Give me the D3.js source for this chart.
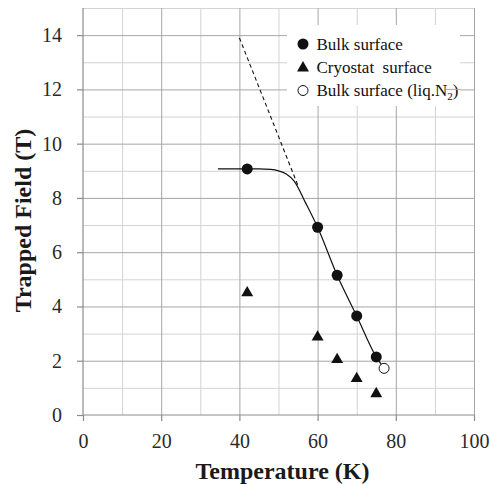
<!DOCTYPE html>
<html>
<head>
<meta charset="utf-8">
<script src="https://cdn.jsdelivr.net/npm/d3@7"></script>
<style>
  body { margin: 0; background: #fff; }
  text { font-family: "Liberation Serif", "Times New Roman", serif; }
</style>
</head>
<body>
<script>
// data
var bulkT = [42, 60, 65, 70, 75],
    bulkB = [9.07, 6.92, 5.15, 3.65, 2.14];
var cryoT = [42, 60, 65, 70, 75],
    cryoB = [4.54, 2.91, 2.08, 1.38, 0.82];
var ln2T = [77],
    ln2B = [1.72];
// hand drawn guide line through the bulk points
var fitT = [34.5, 45, 48, 50, 52, 54, 57, 60, 65, 70, 75, 77],
    fitB = [9.07, 9.07, 9.05, 9.0, 8.88, 8.62, 7.8, 6.92, 5.15, 3.65, 2.14, 1.72];
// dashed extrapolation
var dashT = [40, 55],
    dashB = [13.9, 8.45];
var xTicks = [0, 20, 40, 60, 80, 100],
    yTicks = [0, 2, 4, 6, 8, 10, 12, 14];
var legendLabels = ["Bulk surface", "Cryostat  surface", "Bulk surface (liq.N"];

var width = 490, height = 484;
var pLeft = 83, pRight = 474, pTop = 8, pBottom = 415;

var svg = d3.select("body").append("svg")
    .attr("width", width)
    .attr("height", height);

var x = d3.scaleLinear().domain([0, 100]).range([pLeft, pRight]);
var y = d3.scaleLinear().domain([0, 15]).range([pBottom, pTop]);

// minor grid (odd steps)
svg.append("g")
    .attr("transform", "translate(0," + pBottom + ")")
    .call(d3.axisBottom(x).tickValues(d3.range(10, 101, 20)).tickSize(-(pBottom - pTop)).tickFormat(""))
    .call(function(g) {
        g.select(".domain").remove();
        g.selectAll("line").attr("stroke", "#d3d3d3");
    });
svg.append("g")
    .attr("transform", "translate(" + pLeft + ",0)")
    .call(d3.axisLeft(y).tickValues(d3.range(1, 16, 2)).tickSize(-(pRight - pLeft)).tickFormat(""))
    .call(function(g) {
        g.select(".domain").remove();
        g.selectAll("line").attr("stroke", "#d3d3d3");
    });

// major grid
svg.append("g")
    .attr("transform", "translate(0," + pBottom + ")")
    .call(d3.axisBottom(x).tickValues(xTicks.slice(1)).tickSize(-(pBottom - pTop)).tickFormat(""))
    .call(function(g) {
        g.select(".domain").remove();
        g.selectAll("line").attr("stroke", "#a6a6a6");
    });
svg.append("g")
    .attr("transform", "translate(" + pLeft + ",0)")
    .call(d3.axisLeft(y).tickValues(yTicks.slice(1)).tickSize(-(pRight - pLeft)).tickFormat(""))
    .call(function(g) {
        g.select(".domain").remove();
        g.selectAll("line").attr("stroke", "#a6a6a6");
    });

// axes with labels
var xAxis = svg.append("g")
    .attr("transform", "translate(0," + pBottom + ")")
    .call(d3.axisBottom(x).tickValues(xTicks).tickSize(6).tickPadding(13).tickSizeOuter(0));
var yAxis = svg.append("g")
    .attr("transform", "translate(" + pLeft + ",0)")
    .call(d3.axisLeft(y).tickValues(yTicks).tickSize(6).tickPadding(15).tickSizeOuter(0));

[xAxis, yAxis].forEach(function(g) {
    g.select(".domain").attr("stroke", "#8c8c8c").attr("stroke-width", 1.2);
    g.selectAll(".tick line").attr("stroke", "#8c8c8c").attr("stroke-width", 1.2);
    g.selectAll(".tick text")
        .attr("fill", "#2a2a2a")
        .style("font-family", '"Liberation Serif", serif')
        .style("font-size", "20px");
});
yAxis.select(".domain").attr("d", "M0," + pBottom + "V" + pTop);
xAxis.select(".domain").attr("d", "M" + pLeft + ",0H" + pRight);

// axis titles
svg.append("text")
    .attr("x", (pLeft + pRight) / 2 + 4)
    .attr("y", 479)
    .attr("text-anchor", "middle")
    .style("font-size", "24px")
    .style("font-weight", "bold")
    .attr("fill", "#1a1a1a")
    .text("Temperature (K)");

svg.append("text")
    .attr("transform", "translate(31," + ((pTop + pBottom) / 2 + 9) + ") rotate(-90)")
    .attr("text-anchor", "middle")
    .style("font-size", "24px")
    .style("font-weight", "bold")
    .attr("fill", "#1a1a1a")
    .text("Trapped Field (T)");

// lines
var line = d3.line()
    .x(function(d) { return x(d[0]); })
    .y(function(d) { return y(d[1]); });

svg.append("path")
    .datum(d3.zip(dashT, dashB))
    .attr("d", line)
    .attr("fill", "none")
    .attr("stroke", "#111")
    .attr("stroke-width", 1.1)
    .attr("stroke-dasharray", "4,3");

svg.append("path")
    .datum(d3.zip(fitT, fitB))
    .attr("d", line.curve(d3.curveMonotoneX))
    .attr("fill", "none")
    .attr("stroke", "#111")
    .attr("stroke-width", 1.2);

// markers
var circleSym = d3.symbol().type(d3.symbolCircle).size(95);
var triSym = d3.symbol().type(d3.symbolTriangle).size(62);

svg.selectAll(".cryo")
    .data(d3.zip(cryoT, cryoB))
    .enter().append("path")
    .attr("class", "cryo")
    .attr("d", triSym)
    .attr("transform", function(d) { return "translate(" + x(d[0]) + "," + (y(d[1]) + 1) + ")"; })
    .attr("fill", "#111");

svg.selectAll(".bulk")
    .data(d3.zip(bulkT, bulkB))
    .enter().append("path")
    .attr("class", "bulk")
    .attr("d", circleSym)
    .attr("transform", function(d) { return "translate(" + x(d[0]) + "," + y(d[1]) + ")"; })
    .attr("fill", "#111");

svg.selectAll(".ln2")
    .data(d3.zip(ln2T, ln2B))
    .enter().append("circle")
    .attr("class", "ln2")
    .attr("cx", function(d) { return x(d[0]); })
    .attr("cy", function(d) { return y(d[1]); })
    .attr("r", 5)
    .attr("fill", "#fff")
    .attr("stroke", "#111")
    .attr("stroke-width", 1);

// legend
var lg = svg.append("g");
lg.append("rect")
    .attr("x", 287).attr("y", 25)
    .attr("width", 173).attr("height", 81)
    .attr("fill", "#fff");

var ly = [44, 67, 90.5];
lg.append("path").attr("d", circleSym).attr("transform", "translate(303," + ly[0] + ")").attr("fill", "#111");
lg.append("path").attr("d", triSym).attr("transform", "translate(303," + (ly[1] + 1) + ")").attr("fill", "#111");
lg.append("circle").attr("cx", 303).attr("cy", ly[2]).attr("r", 5)
    .attr("fill", "#fff").attr("stroke", "#111").attr("stroke-width", 1);

legendLabels.forEach(function(t, i) {
    var tx = lg.append("text")
        .attr("x", 316.5)
        .attr("y", ly[i] + 5.5)
        .style("font-size", "17px")
        .style("white-space", "pre")
        .attr("fill", "#111")
        .text(t);
    if (i == 2) {
        tx.append("tspan").attr("dy", 4).style("font-size", "11px").text("2");
        tx.append("tspan").attr("dy", -4).text(")");
    }
});
// bit of gridline right of legend text
lg.append("line")
    .attr("x1", 446).attr("x2", 460)
    .attr("y1", y(12)).attr("y2", y(12))
    .attr("stroke", "#a6a6a6");
</script>
</body>
</html>
